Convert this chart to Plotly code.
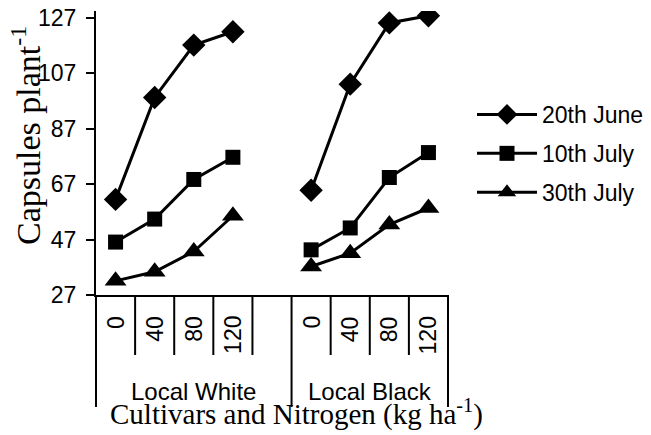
import plotly.graph_objects as go

# Nitrogen rates (kg/ha) per cultivar, with an empty slot separating the cultivars
nitrogen = ["0", "40", "80", "120"]
cultivars = ["Local White", "Local Black"]

# Capsules per plant for each sowing date
june20_white = [61.5, 98.3, 117.2, 122.0]
june20_black = [64.8, 103.1, 125.2, 127.8]
july10_white = [46.1, 54.4, 68.7, 76.7]
july10_black = [43.3, 51.2, 69.4, 78.4]
july30_white = [32.1, 35.4, 42.7, 55.6]
july30_black = [37.3, 42.1, 52.4, 58.4]

y_ticks = [27, 47, 67, 87, 107, 127]

# slot layout: 4 white slots, 1 blank, 4 black slots
white_slots = [0, 1, 2, 3]
black_slots = [5, 6, 7, 8]
n_slots = 9
x_slots = white_slots + [4] + black_slots

series = [
    ("20th June", june20_white, june20_black, "diamond", 18),
    ("10th July", july10_white, july10_black, "square", 15),
    ("30th July", july30_white, july30_black, "triangle-up", 19),
]

fig = go.Figure()
for i, (name, white, black, symbol, size) in enumerate(series):
    fig.add_trace(go.Scatter(
        x=x_slots,
        y=white + [None] + black,
        name=name,
        mode="lines+markers",
        connectgaps=False,
        line=dict(color="black", width=3),
        marker=dict(symbol=symbol, size=size, color="black"),
        legendgroup=f"g{i}",
    ))

W, H = 651, 435
L, R, T, B = 96, 203, 11, 140
plot_h = H - T - B


def py(px):
    """pixel row -> paper y"""
    return (H - B - px) / plot_h


def bx(boundary):
    """slot boundary -> paper x"""
    return (boundary + 0.5) / n_slots


line_style = dict(color="black", width=2)
shapes = [dict(type="line", xref="paper", yref="paper", x0=0, x1=0,
               y0=0, y1=py(407), line=line_style)]
for b in [0.5, 1.5, 2.5, 3.5, 5.5, 6.5, 7.5]:
    shapes.append(dict(type="line", xref="paper", yref="paper", x0=bx(b), x1=bx(b),
                       y0=0, y1=py(355), line=line_style))
for b in [4.5, 8.5]:
    shapes.append(dict(type="line", xref="paper", yref="paper", x0=bx(b), x1=bx(b),
                       y0=0, y1=py(407), line=line_style))

annotations = []
arial = dict(family="Arial, Liberation Sans, sans-serif", size=23, color="black")
arial_cat = dict(family="Arial, Liberation Sans, sans-serif", size=24, color="black")
times_x = dict(family="Times New Roman, Liberation Serif, serif", size=29, color="black")
times_y = dict(family="Times New Roman, Liberation Serif, serif", size=34, color="black")
for slots in (white_slots, black_slots):
    for s, lab in zip(slots, nitrogen):
        annotations.append(dict(x=s, xref="x", y=py(314), yref="paper", text=lab,
                                textangle=-90, showarrow=False, xanchor="center",
                                yanchor="top", font=arial))
for slots, name in zip((white_slots + [4], black_slots), cultivars):
    c = (bx(slots[0] - 0.5) + bx(slots[-1] + 0.5)) / 2
    annotations.append(dict(x=c, xref="paper", y=py(391), yref="paper", text=name,
                            showarrow=False, xanchor="center", yanchor="middle",
                            font=arial_cat))

annotations.append(dict(x=(296 - L) / (W - L - R), xref="paper", y=py(412), yref="paper",
                        text="Cultivars and Nitrogen (kg ha<sup>-1</sup>)",
                        showarrow=False, xanchor="center", yanchor="middle", font=times_x))
annotations.append(dict(x=(26 - L) / (W - L - R), xref="paper", y=py(136), yref="paper",
                        text="Capsules plant<sup>-1</sup>", textangle=-90,
                        showarrow=False, xanchor="center", yanchor="middle", font=times_y))

fig.update_layout(
    width=W, height=H,
    margin=dict(l=L, r=R, t=T, b=B, autoexpand=False),
    paper_bgcolor="white", plot_bgcolor="white",
    showlegend=True,
    legend=dict(x=(472 - L) / (W - L - R), y=py(93), xanchor="left", yanchor="top",
                font=arial, tracegroupgap=6, itemwidth=60, bgcolor="rgba(0,0,0,0)"),
    xaxis=dict(range=[-0.5, n_slots - 0.5], showticklabels=False, ticks="",
               showgrid=False, zeroline=False, showline=True, linecolor="black",
               linewidth=2, fixedrange=True),
    yaxis=dict(range=[27, 129.5], tickvals=y_ticks, ticks="outside", ticklen=8,
               tickwidth=2, tickcolor="black", showgrid=False, zeroline=False,
               showline=True, linecolor="black", linewidth=2, tickfont=arial,
               ticklabelstandoff=5, fixedrange=True),
    shapes=shapes,
    annotations=annotations,
)

fig.write_html("out.html")
